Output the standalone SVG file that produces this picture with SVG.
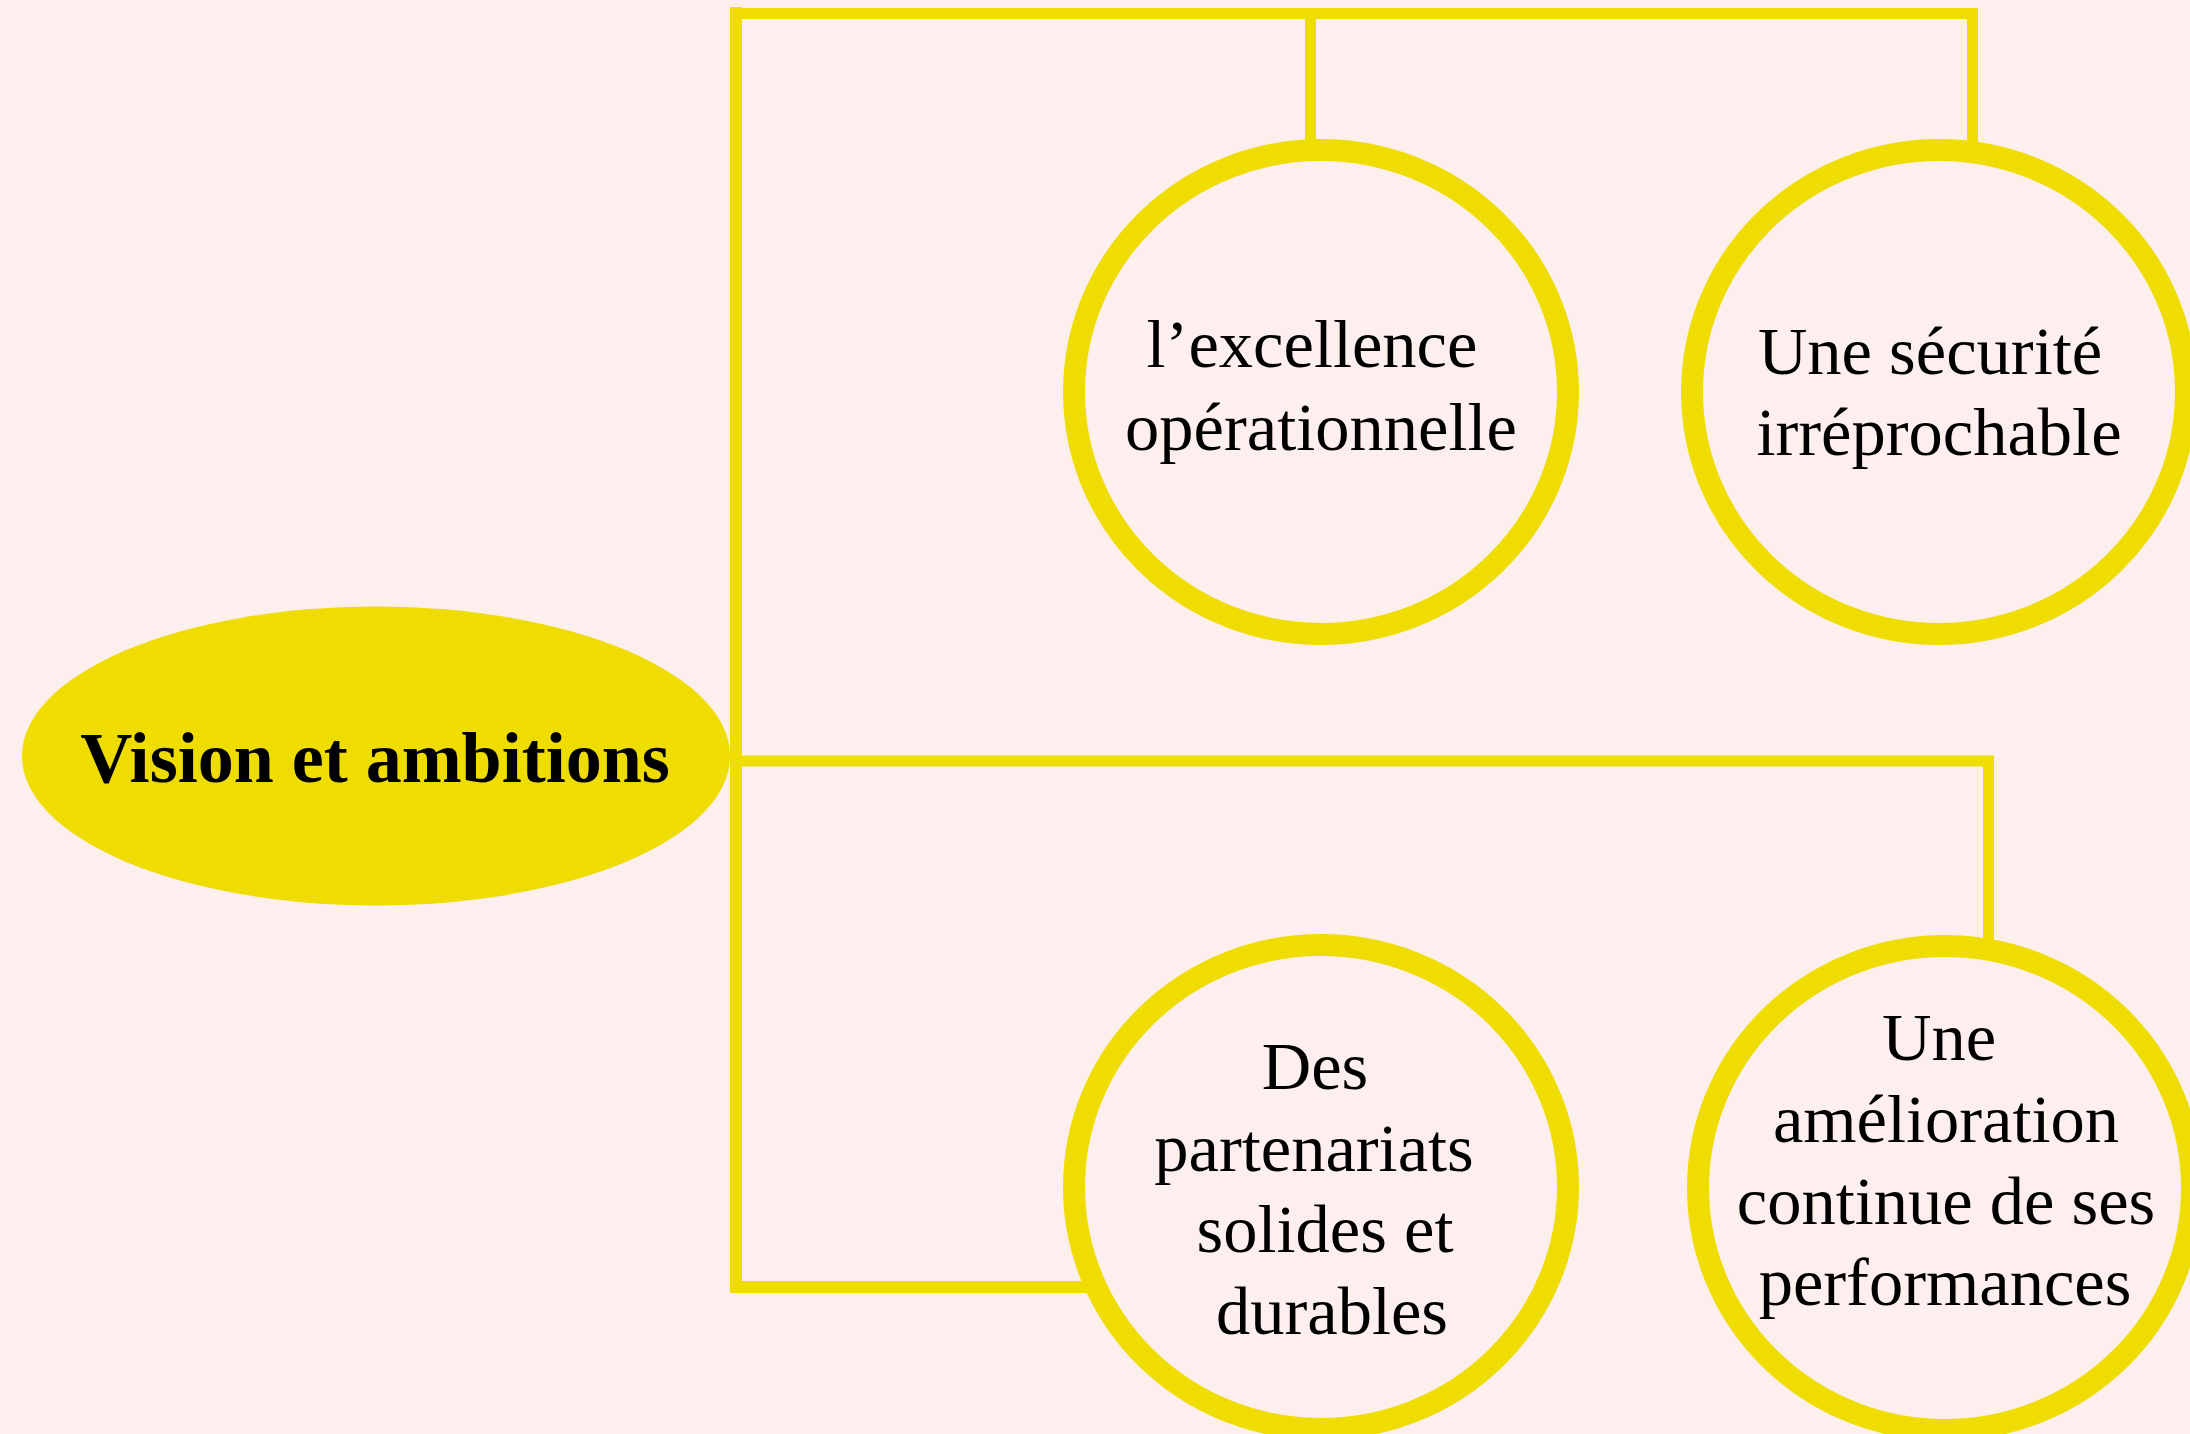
<svg xmlns="http://www.w3.org/2000/svg" width="2190" height="1434" viewBox="0 0 2190 1434">
<style>
.bg{fill:#FDEFEE}
.conn{fill:none;stroke:#EFDC00;stroke-linejoin:miter;stroke-linecap:butt}
.ring{fill:#FDEFEE;stroke:#EFDC00;stroke-width:22}
.hub{fill:#EFDC00}
.t{font-family:"Liberation Serif","Times New Roman",serif;font-size:68.5px;fill:#000;text-anchor:middle}
.tb{font-family:"Liberation Serif","Times New Roman",serif;font-size:72px;font-weight:bold;fill:#000;text-anchor:middle}
</style>
<rect class="bg" x="0" y="0" width="2190" height="1434"/>
<g id="connectors">
<path class="conn" stroke-width="12" d="M736,7 V1287 H1090"/>
<path class="conn" stroke-width="11" d="M742,13.5 H1972.5 V142"/>
<path class="conn" stroke-width="11" d="M1310.5,19 V142"/>
<path class="conn" stroke-width="11" d="M742,761 H1988.5 V942"/>
</g>
<g id="node-vision">
<ellipse class="hub" cx="376" cy="756" rx="354" ry="149.5"/>
<text class="tb" x="375" y="782">Vision et ambitions</text>
</g>
<g id="node-excellence">
<ellipse class="ring" cx="1321" cy="392" rx="247" ry="242"/>
<text class="t" x="1312" y="367">l’excellence</text>
<text class="t" x="1321" y="450">opérationnelle</text>
</g>
<g id="node-securite">
<ellipse class="ring" cx="1939" cy="392" rx="247" ry="242"/>
<text class="t" x="1930" y="374">Une sécurité</text>
<text class="t" x="1939" y="455">irréprochable</text>
</g>
<g id="node-partenariats">
<ellipse class="ring" cx="1321" cy="1187" rx="247" ry="242"/>
<text class="t" x="1315" y="1089">Des</text>
<text class="t" x="1314" y="1171">partenariats</text>
<text class="t" x="1325" y="1252">solides et</text>
<text class="t" x="1332" y="1334">durables</text>
</g>
<g id="node-amelioration">
<ellipse class="ring" cx="1945" cy="1188" rx="247" ry="242"/>
<text class="t" x="1939" y="1060">Une</text>
<text class="t" x="1946" y="1142">amélioration</text>
<text class="t" x="1946" y="1224">continue de ses</text>
<text class="t" x="1945" y="1305">performances</text>
</g>
</svg>
